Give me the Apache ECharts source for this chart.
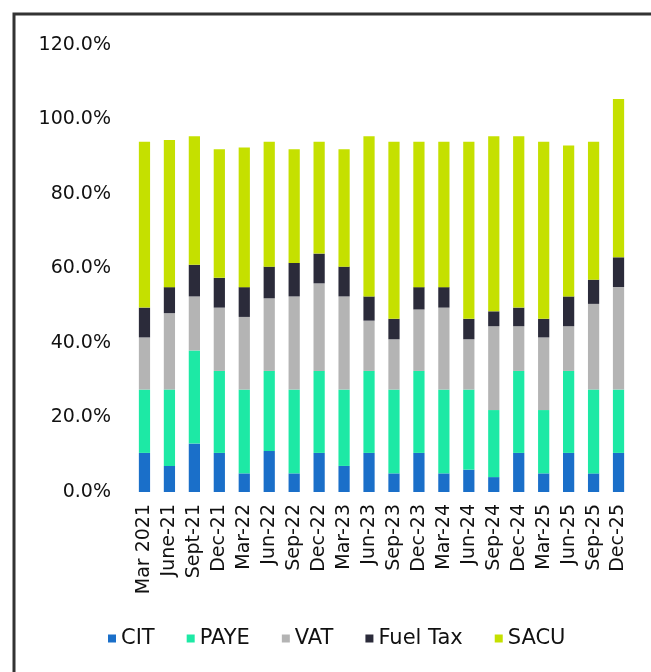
<!DOCTYPE html>
<html>
<head>
<meta charset="utf-8">
<script src="https://cdn.jsdelivr.net/npm/echarts@6/dist/echarts.min.js"></script>
<style>
  html, body { margin: 0; padding: 0; background: #fff; }
  #chart { width: 651px; height: 672px; }
</style>
</head>
<body>
<div id="chart"></div>
<script>
// quarters on the x axis
const quarters = ['Mar 2021', 'June-21', 'Sept-21', 'Dec-21', 'Mar-22', 'Jun-22', 'Sep-22', 'Dec-22',
  'Mar-23', 'Jun-23', 'Sep-23', 'Dec-23', 'Mar-24', 'Jun-24', 'Sep-24', 'Dec-24',
  'Mar-25', 'Jun-25', 'Sep-25', 'Dec-25'];

// shares in %
const cit = [10.5, 7, 13, 10.5, 5, 11, 5, 10.5, 7, 10.5, 5, 10.5, 5, 6, 4, 10.5, 5, 10.5, 5, 10.5];
const paye = [17, 20.5, 25, 22, 22.5, 21.5, 22.5, 22, 20.5, 22, 22.5, 22, 22.5, 21.5, 18, 22, 17, 22, 22.5, 17];
const vat = [14, 20.5, 14.5, 17, 19.5, 19.5, 25, 23.5, 25, 13.5, 13.5, 16.5, 22, 13.5, 22.5, 12, 19.5, 12, 23, 27.5];
const fuelTax = [8, 7, 8.5, 8, 8, 8.5, 9, 8, 8, 6.5, 5.5, 6, 5.5, 5.5, 4, 5, 5, 8, 6.5, 8];
const sacu = [44.5, 39.5, 34.5, 34.5, 37.5, 33.5, 30.5, 30, 31.5, 43, 47.5, 39, 39, 47.5, 47, 46, 47.5, 40.5, 37, 42.5];

const yTicks = [0, 20, 40, 60, 80, 100, 120];

const seriesDefs = [
  { name: 'CIT', data: cit, color: '#1a6fc9' },
  { name: 'PAYE', data: paye, color: '#1de9a5' },
  { name: 'VAT', data: vat, color: '#b4b4b4' },
  { name: 'Fuel Tax', data: fuelTax, color: '#2b2b3a' },
  { name: 'SACU', data: sacu, color: '#c5e000' },
];

const myChart = echarts.init(document.getElementById('chart'));

const option = {
  animation: false,
  textStyle: { fontFamily: 'DejaVu Sans, sans-serif' },
  graphic: [
    {
      type: 'polyline',
      shape: { points: [[14, 680], [14, 14], [660, 14]] },
      style: { stroke: '#333', lineWidth: 3, fill: null },
    },
  ],
  legend: {
    bottom: 18,
    left: 103,
    icon: 'rect',
    itemWidth: 8,
    itemHeight: 8,
    itemGap: 32,
    textStyle: { fontSize: 21, color: '#111' },
    data: seriesDefs.map((s) => s.name),
  },
  grid: { left: 132, right: 20, top: 45, bottom: 180, containLabel: false },
  xAxis: {
    type: 'category',
    data: quarters,
    axisLine: { show: false },
    axisTick: { show: false },
    axisLabel: { rotate: 90, fontSize: 19, color: '#111', margin: 12, interval: 0 },
  },
  yAxis: {
    type: 'value',
    min: yTicks[0],
    max: yTicks[yTicks.length - 1],
    interval: 20,
    splitLine: { show: false },
    axisLine: { show: false },
    axisTick: { show: false },
    axisLabel: {
      fontSize: 19,
      color: '#111',
      margin: 21,
      formatter: (v) => v.toFixed(1) + '%',
    },
  },
  series: seriesDefs.map((s) => ({
    name: s.name,
    type: 'bar',
    stack: 'total',
    barWidth: '45%',
    itemStyle: { color: s.color },
    data: s.data,
  })),
};

myChart.setOption(option);
</script>
</body>
</html>
